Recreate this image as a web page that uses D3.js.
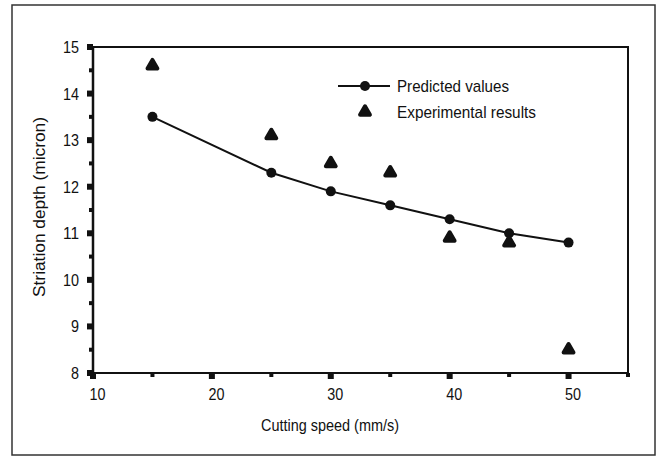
<!DOCTYPE html>
<html><head><meta charset="utf-8">
<script src="https://cdn.jsdelivr.net/npm/d3@7"></script>
<style>
body{margin:0;background:#fff;}
text{font-family:"Liberation Sans",Arial,sans-serif;fill:#111;}
</style></head>
<body><svg id="c" width="660" height="458"></svg>
<script>
const speeds = [15, 25, 30, 35, 40, 45, 50];
const predicted = [13.5, 12.3, 11.9, 11.6, 11.3, 11.0, 10.8];
const experimental = [14.6, 13.1, 12.5, 12.3, 10.9, 10.8, 8.5];
const xTicks = [10, 20, 30, 40, 50];
const xMinorTicks = [15, 25, 35, 45, 55];
const yTicks = [8, 9, 10, 11, 12, 13, 14, 15];
const yMinorTicks = [8.5, 9.5, 10.5, 11.5, 12.5, 13.5, 14.5];
const xTitle = "Cutting speed (mm/s)";
const yTitle = "Striation depth (micron)";
const legendLabels = ["Predicted values", "Experimental results"];

const svg = d3.select("#c");
const L = 93, R = 628, T = 47, B = 373;
const x = d3.scaleLinear().domain([10, 55]).range([L, R]);
const y = d3.scaleLinear().domain([8, 15]).range([B, T]);

// outer frame
svg.append("rect").attr("x", 12).attr("y", 5).attr("width", 643).attr("height", 450)
  .attr("fill", "none").attr("stroke", "#333").attr("stroke-width", 1.5);

// plot box
svg.append("rect").attr("x", L).attr("y", T).attr("width", R - L).attr("height", B - T)
  .attr("fill", "none").attr("stroke", "#111").attr("stroke-width", 2);
svg.append("line").attr("x1", L).attr("x2", L).attr("y1", T).attr("y2", B)
  .attr("stroke", "#111").attr("stroke-width", 2.5);

// y axis
const yAxis = d3.axisLeft(y).tickValues(yTicks).tickSize(0).tickPadding(14).tickFormat(d3.format("d"));
const gy = svg.append("g").attr("transform", `translate(${L},0)`).call(yAxis);
gy.select(".domain").remove();
gy.selectAll("text").attr("font-size", 17).style("font-family", "Liberation Sans, Arial, sans-serif")
  .attr("textLength", d => d >= 10 ? 16 : 8).attr("lengthAdjust", "spacingAndGlyphs");
svg.append("g").selectAll("rect").data(yTicks).join("rect")
  .attr("x", L - 6).attr("y", d => y(d) - 3).attr("width", 6).attr("height", 6).attr("fill", "#111");
svg.append("g").selectAll("rect").data(yMinorTicks).join("rect")
  .attr("x", L - 4).attr("y", d => y(d) - 2).attr("width", 4).attr("height", 4).attr("fill", "#111");

// x axis
const xAxis = d3.axisBottom(x).tickValues(xTicks).tickSize(0).tickPadding(15).tickFormat(d3.format("d"));
const gx = svg.append("g").attr("transform", `translate(4,${B})`).call(xAxis);
gx.select(".domain").remove();
gx.selectAll("text").attr("font-size", 17).style("font-family", "Liberation Sans, Arial, sans-serif")
  .attr("textLength", 16).attr("lengthAdjust", "spacingAndGlyphs");
svg.append("g").selectAll("rect").data(xTicks).join("rect")
  .attr("x", d => x(d) - 3).attr("y", B).attr("width", 6).attr("height", 6).attr("fill", "#111");
svg.append("g").selectAll("rect").data(xMinorTicks).join("rect")
  .attr("x", d => x(d) - 2).attr("y", B).attr("width", 4).attr("height", 4).attr("fill", "#111");

// titles
svg.append("text").attr("x", 330).attr("y", 431).attr("text-anchor", "middle")
  .attr("font-size", 17).attr("textLength", 138).attr("lengthAdjust", "spacingAndGlyphs").text(xTitle);
svg.append("text").attr("transform", `translate(45,${(T + B) / 2 - 3}) rotate(-90)`)
  .attr("text-anchor", "middle").attr("font-size", 17)
  .attr("textLength", 180).attr("lengthAdjust", "spacingAndGlyphs").text(yTitle);

// predicted line
const pts = speeds.map((s, i) => ({s, p: predicted[i], e: experimental[i]}));
svg.append("path").datum(pts)
  .attr("d", d3.line().x(d => x(d.s)).y(d => y(d.p)))
  .attr("fill", "none").attr("stroke", "#111").attr("stroke-width", 2);
svg.append("g").selectAll("circle").data(pts).join("circle")
  .attr("cx", d => x(d.s)).attr("cy", d => y(d.p)).attr("r", 5).attr("fill", "#111");

// experimental triangles
const tri = d3.symbol().type(d3.symbolTriangle).size(42);
svg.append("g").selectAll("path").data(pts).join("path")
  .attr("d", tri).attr("transform", d => `translate(${x(d.s)},${y(d.e)})`)
  .attr("fill", "#111").attr("stroke", "#111").attr("stroke-width", 4).attr("stroke-linejoin", "round");

// legend
const lg = svg.append("g");
lg.append("line").attr("x1", 338).attr("x2", 390).attr("y1", 86).attr("y2", 86)
  .attr("stroke", "#111").attr("stroke-width", 2);
lg.append("circle").attr("cx", 365).attr("cy", 86).attr("r", 5).attr("fill", "#111");
lg.append("path").attr("d", tri).attr("transform", "translate(365,112)")
  .attr("fill", "#111").attr("stroke", "#111").attr("stroke-width", 4).attr("stroke-linejoin", "round");
lg.selectAll("text.l").data(legendLabels).join("text").attr("class", "l")
  .attr("x", 397).attr("y", (d, i) => 92 + i * 26).attr("font-size", 17)
  .attr("textLength", (d, i) => i ? 139 : 112).attr("lengthAdjust", "spacingAndGlyphs").text(d => d);
</script></body></html>
